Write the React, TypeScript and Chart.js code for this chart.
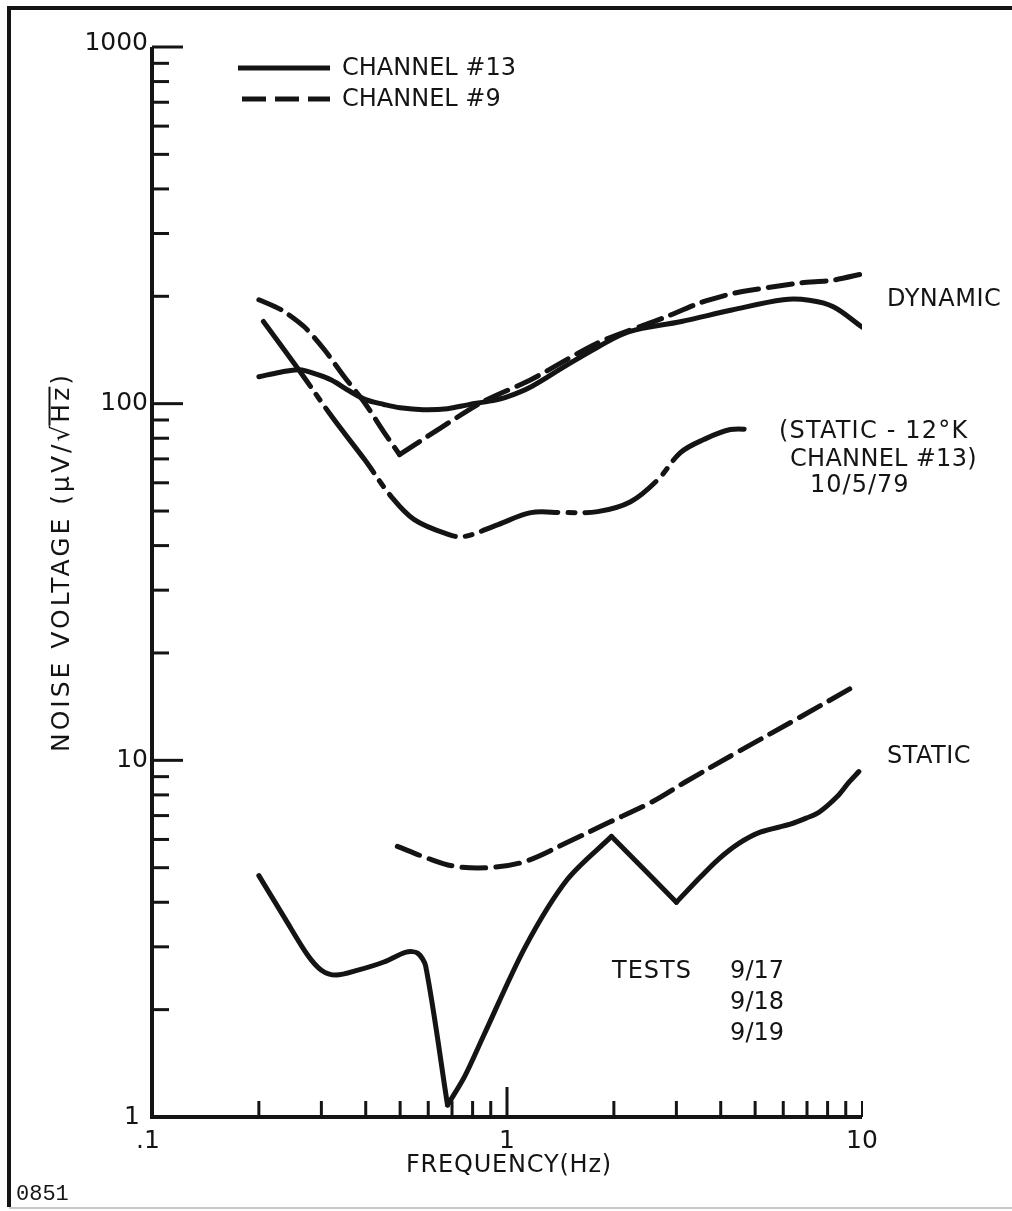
import React, { useEffect, useRef } from "react";
import { Chart, registerables } from "chart.js";

Chart.register(...registerables);

// ---------------- DATA ----------------
// Dynamic, channel #13 (solid)
const dynCh13X = [0.2, 0.23, 0.26, 0.29, 0.32, 0.36, 0.4, 0.45, 0.5, 0.58, 0.68, 0.78, 0.9, 1.0, 1.17, 1.45, 1.8, 2.2, 3.1, 4.3, 6.0, 7.1, 8.3, 10];
const dynCh13Y = [119, 122.5, 124.5, 121, 116.5, 108.5, 102.6, 99.5, 97.4, 96.2, 96.8, 99.4, 101.8, 104.5, 111.6, 127, 144, 159, 170, 183, 195.6, 195, 187, 164];

// Dynamic, channel #9 (dashed) – sharp corner at 0.5 Hz
const dynCh9X = [0.2, 0.232, 0.269, 0.306, 0.348, 0.397, 0.451, 0.498, 0.845, 1.167, 1.8, 2.76, 3.51, 4.26, 4.84, 6.7, 8.3, 10];
const dynCh9Y = [195.6, 183, 164, 141.6, 119, 100.6, 83, 72, 100.6, 116.7, 148, 174, 192, 203, 208, 218, 222, 231];
const dynCh9Corners = [0.498];

// Static 12°K, channel #13, 10/5/79 (dash-dot)
const static12KX = [0.206, 0.259, 0.321, 0.397, 0.472, 0.548, 0.683, 0.757, 0.944, 1.167, 1.445, 1.8, 2.23, 2.66, 3.08, 3.58, 4.26, 4.94];
const static12KY = [170, 124.5, 92, 69.7, 54.9, 47.3, 43.0, 42.4, 45.8, 49.5, 49.5, 49.8, 53.1, 61.2, 72.9, 79.3, 84.6, 84.6];

// Static, channel #13 (solid) – sharp corners
const staticCh13X = [0.2, 0.237, 0.274, 0.3, 0.33, 0.38, 0.45, 0.52, 0.56, 0.59, 0.68, 0.76, 0.859, 1.128, 1.48, 1.97, 3.0, 3.5, 3.94, 4.5, 5.17, 6.28, 7.0, 7.57, 8.5, 9.18, 9.8];
const staticCh13Y = [4.75, 3.6, 2.85, 2.58, 2.5, 2.58, 2.72, 2.9, 2.88, 2.65, 1.08, 1.3, 1.69, 3.01, 4.64, 6.12, 4.0, 4.7, 5.28, 5.85, 6.29, 6.62, 6.9, 7.15, 7.9, 8.67, 9.3];
const staticCh13Corners = [0.68, 1.97, 3.0];

// Static, channel #9 (dashed)
const staticCh9X = [0.491, 0.587, 0.71, 0.908, 1.128, 1.48, 1.94, 2.55, 3.17, 4.5, 6.5, 9.7];
const staticCh9Y = [5.74, 5.35, 5.05, 5.01, 5.21, 5.89, 6.7, 7.63, 8.68, 10.6, 13.0, 16.3];

// Axes
const xTickValues = [0.1, 1, 10];
const xTickLabels = [".1", "1", "10"];
const yTickValues = [1, 10, 100, 1000];
const yTickLabels = ["1", "10", "100", "1000"];
const minorMultipliers = [2, 3, 4, 5, 6, 7, 8, 9];

const legendLabels = ["CHANNEL #13", "CHANNEL #9"];
const xTitle = "FREQUENCY(Hz)";
const yTitleMain = "NOISE VOLTAGE (μV/";
const yTitleRoot = "√";
const yTitleRadicand = "Hz";
const yTitleEnd = ")";
const noteDynamic = "DYNAMIC";
const noteStatic = "STATIC";
const noteStatic12K = ["(STATIC - 12°K", "CHANNEL #13)", "10/5/79"];
const noteTests = ["TESTS", "9/17", "9/18", "9/19"];
const docNumber = "0851";

// ---------------- STYLE ----------------
const INK = "#141414";
const FONT = '"DejaVu Sans", "Liberation Sans", sans-serif';
const MONO = '"Liberation Mono", "DejaVu Sans Mono", monospace';
const SOLID: number[] = [];
const DASHED = [24, 10];
const DASHDOT = [80, 10, 7, 10];

function toPoints(xs: number[], ys: number[]) {
  return xs.map((x, i) => ({ x, y: ys[i] }));
}

function splitAt(xs: number[], ys: number[], corners: number[]) {
  const pieces: { x: number; y: number }[][] = [];
  let cur: { x: number; y: number }[] = [];
  xs.forEach((x, i) => {
    cur.push({ x, y: ys[i] });
    if (corners.includes(x) && i > 0 && i < xs.length - 1) {
      pieces.push(cur);
      cur = [{ x, y: ys[i] }];
    }
  });
  if (cur.length > 1) pieces.push(cur);
  return pieces;
}

function ds(data: { x: number; y: number }[], dash: number[], tension = 0.35) {
  return {
    data,
    borderColor: INK,
    borderWidth: 5,
    borderDash: dash,
    borderCapStyle: "round" as const,
    borderJoinStyle: "round" as const,
    pointRadius: 0,
    tension,
    fill: false,
  };
}

function text(
  ctx: CanvasRenderingContext2D,
  s: string,
  x: number,
  y: number,
  size: number,
  align: CanvasTextAlign = "left",
  font = FONT,
  spacing = 0
) {
  ctx.font = `${size}px ${font}`;
  (ctx as any).letterSpacing = `${spacing}px`;
  ctx.textAlign = align;
  ctx.textBaseline = "middle";
  ctx.fillStyle = INK;
  ctx.fillText(s, x, y);
  (ctx as any).letterSpacing = "0px";
}

function line(ctx: CanvasRenderingContext2D, x1: number, y1: number, x2: number, y2: number) {
  ctx.beginPath();
  ctx.moveTo(x1, y1);
  ctx.lineTo(x2, y2);
  ctx.stroke();
}

const paperPlugin = {
  id: "paper",
  beforeDraw(chart: any) {
    const ctx: CanvasRenderingContext2D = chart.ctx;
    ctx.save();
    ctx.fillStyle = "#ffffff";
    ctx.fillRect(0, 0, chart.width, chart.height);
    ctx.strokeStyle = INK;
    ctx.lineWidth = 4;
    ctx.beginPath();
    ctx.moveTo(9, 1207);
    ctx.lineTo(9, 8);
    ctx.lineTo(chart.width, 8);
    ctx.stroke();
    ctx.strokeStyle = "#c8c8c8";
    ctx.lineWidth = 2;
    line(ctx, 9, 1208, chart.width, 1208);
    ctx.restore();
  },
  afterDraw(chart: any) {
    const ctx: CanvasRenderingContext2D = chart.ctx;
    const { left, right, top, bottom } = chart.chartArea;
    const xs = chart.scales.x;
    const ys = chart.scales.y;
    ctx.save();
    ctx.strokeStyle = INK;
    ctx.lineCap = "butt";

    // axis lines
    ctx.lineWidth = 4;
    ctx.beginPath();
    ctx.moveTo(left, top);
    ctx.lineTo(left, bottom);
    ctx.lineTo(right, bottom);
    ctx.stroke();

    // y ticks
    ctx.lineWidth = 3;
    for (let i = 0; i < yTickValues.length - 1; i++) {
      for (const m of minorMultipliers) {
        const py = ys.getPixelForValue(yTickValues[i] * m);
        line(ctx, left, py, left + 17, py);
      }
    }
    for (let i = 1; i < yTickValues.length; i++) {
      const py = ys.getPixelForValue(yTickValues[i]);
      line(ctx, left, py, left + 31, py);
    }
    // x ticks
    for (let i = 0; i < xTickValues.length - 1; i++) {
      for (const m of minorMultipliers) {
        const px = xs.getPixelForValue(xTickValues[i] * m);
        line(ctx, px, bottom, px, bottom - 16);
      }
    }
    {
      const p1 = xs.getPixelForValue(xTickValues[1]);
      line(ctx, p1, bottom, p1, bottom - 30);
      const p10 = xs.getPixelForValue(xTickValues[2]);
      ctx.lineWidth = 2;
      line(ctx, p10, bottom, p10, bottom - 16);
    }

    // tick labels
    yTickValues.forEach((v, i) => {
      const py = ys.getPixelForValue(v);
      const dy = i === yTickValues.length - 1 ? -4 : 0;
      const dx = i === 0 ? -12 : -4;
      text(ctx, yTickLabels[i], left + dx, py + dy, 25, "right");
    });
    xTickValues.forEach((v, i) => {
      const px = xs.getPixelForValue(v);
      text(ctx, xTickLabels[i], px + (i === 0 ? -4 : 0), bottom + 24, 25, "center");
    });

    // axis titles
    text(ctx, xTitle, (left + right) / 2 + 2, bottom + 49, 24, "center", FONT, 0.8);
    {
      const size = 25;
      ctx.font = `${size}px ${FONT}`;
      (ctx as any).letterSpacing = "3px";
      const parts = [yTitleMain, yTitleRoot, yTitleRadicand, yTitleEnd];
      const widths = parts.map((p) => ctx.measureText(p).width);
      (ctx as any).letterSpacing = "0px";
      const total = widths.reduce((a, b) => a + b, 0);
      ctx.save();
      ctx.translate(62, 562);
      ctx.rotate(-Math.PI / 2);
      let cx = -total / 2;
      parts.forEach((p, i) => {
        text(ctx, p, cx, 0, size, "left", FONT, 3);
        if (i === 2) {
          ctx.lineWidth = 2;
          line(ctx, cx - 3, -size * 0.5, cx + widths[i] - 2, -size * 0.5);
        }
        cx += widths[i];
      });
      ctx.restore();
    }

    // legend
    ctx.lineWidth = 5;
    ctx.lineCap = "butt";
    line(ctx, 238, 68, 330, 68);
    ctx.setLineDash([24, 9]);
    line(ctx, 242, 99, 330, 99);
    ctx.setLineDash([]);
    text(ctx, legendLabels[0], 342, 69, 24);
    text(ctx, legendLabels[1], 342, 100, 24);

    // annotations
    text(ctx, noteDynamic, 887, 300, 24, "left", FONT, 0.5);
    text(ctx, noteStatic12K[0], 779, 432, 24, "left", FONT, 1.2);
    text(ctx, noteStatic12K[1], 790, 460, 24, "left", FONT, 0.3);
    text(ctx, noteStatic12K[2], 810, 486, 24, "left", FONT, 1);
    text(ctx, noteStatic, 887, 757, 24, "left", FONT, 0.5);
    text(ctx, noteTests[0], 612, 972, 24, "left", FONT, 1);
    text(ctx, noteTests[1], 784, 972, 24, "right");
    text(ctx, noteTests[2], 784, 1003, 24, "right");
    text(ctx, noteTests[3], 784, 1034, 24, "right");

    // document number
    text(ctx, docNumber, 16, 1194, 22, "left", MONO);
    ctx.restore();
  },
};

export default function App() {
  const ref = useRef<HTMLCanvasElement | null>(null);

  useEffect(() => {
    document.body.style.margin = "0";
    const canvas = ref.current;
    if (!canvas) return;

    const datasets: any[] = [];
    datasets.push(ds(toPoints(dynCh13X, dynCh13Y), SOLID));
    splitAt(dynCh9X, dynCh9Y, dynCh9Corners).forEach((p) => datasets.push(ds(p, DASHED, 0.25)));
    datasets.push(ds(toPoints(static12KX, static12KY), DASHDOT));
    splitAt(staticCh13X, staticCh13Y, staticCh13Corners).forEach((p) => datasets.push(ds(p, SOLID, 0.3)));
    datasets.push(ds(toPoints(staticCh9X, staticCh9Y), DASHED));

    const chart = new Chart(canvas, {
      type: "line",
      data: { datasets },
      options: {
        animation: false,
        responsive: false,
        devicePixelRatio: 1,
        layout: { padding: { left: 152, right: 150, top: 47, bottom: 94 } },
        plugins: { legend: { display: false }, tooltip: { enabled: false } },
        scales: {
          x: { type: "logarithmic", min: 0.1, max: 10, display: false },
          y: { type: "logarithmic", min: 1, max: 1000, display: false },
        },
      },
      plugins: [paperPlugin],
    });
    return () => chart.destroy();
  }, []);

  return <canvas ref={ref} width={1012} height={1211} style={{ display: "block" }} />;
}
